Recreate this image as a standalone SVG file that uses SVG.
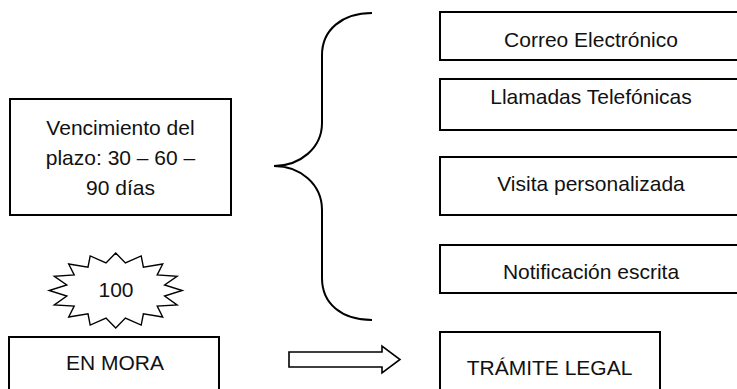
<svg xmlns="http://www.w3.org/2000/svg" width="737" height="389" viewBox="0 0 737 389">
  <style>
    .box { fill: #fff; stroke: #000; stroke-width: 2; }
    .line { fill: none; stroke: #000; stroke-width: 2; }
    .label { font-family: "Liberation Sans", Arial, sans-serif; font-size: 21px; fill: #111; text-anchor: middle; }
  </style>
  <rect width="737" height="389" fill="#fff"/>

  <!-- left column -->
  <g id="vencimiento">
    <rect class="box" x="10" y="99" width="221" height="116"/>
    <text class="label" x="120.5" y="135">Vencimiento del</text>
    <text class="label" x="120.5" y="165">plazo: 30 – 60 –</text>
    <text class="label" x="120.5" y="195">90 días</text>
  </g>

  <g id="contador">
    <polygon fill="#fff" stroke="#000" stroke-width="1.4" stroke-linejoin="miter"
      points="115.7,253.0 125.4,262.9 141.2,255.9 143.4,267.1 162.7,264.0 157.2,274.9 177.1,276.2 164.6,285.0 182.2,290.5 164.6,296.0 177.1,304.9 157.2,306.1 162.7,317.0 143.4,313.9 141.2,325.1 125.4,318.1 115.7,328.0 106.0,318.1 90.2,325.1 88.0,313.9 68.7,317.0 74.2,306.1 54.3,304.9 66.8,296.0 49.2,290.5 66.8,285.0 54.3,276.2 74.2,274.9 68.7,264.0 88.0,267.1 90.2,255.9 106.0,262.9"/>
    <text class="label" x="116" y="297">100</text>
  </g>

  <g id="en-mora">
    <rect class="box" x="9" y="337" width="210" height="60"/>
    <text class="label" x="115" y="370">EN MORA</text>
  </g>

  <!-- right column -->
  <g id="correo">
    <rect class="box" x="440" y="12" width="302" height="48"/>
    <text class="label" x="591" y="47">Correo Electrónico</text>
  </g>
  <g id="llamadas">
    <rect class="box" x="440" y="79" width="302" height="51"/>
    <text class="label" x="591" y="104">Llamadas Telefónicas</text>
  </g>
  <g id="visita">
    <rect class="box" x="440" y="157" width="302" height="58"/>
    <text class="label" x="591" y="191">Visita personalizada</text>
  </g>
  <g id="notificacion">
    <rect class="box" x="440" y="245" width="302" height="48"/>
    <text class="label" x="591" y="279">Notificación escrita</text>
  </g>
  <g id="tramite">
    <rect class="box" x="440" y="332" width="220" height="65"/>
    <text class="label" x="549.5" y="375">TRÁMITE LEGAL</text>
  </g>

  <!-- connectors -->
  <g id="connectors">
    <path class="line" d="M372,13 C342,13 322,30 322,55 L322,123 C322,148 300,166 274,166 C300,166 322,184 322,210 L322,278 C322,304 342,320 372,320"/>
    <polygon fill="#fff" stroke="#000" stroke-width="1.6" stroke-linejoin="miter"
      points="289,352 382,352 382,346 400,359.5 382,373 382,367 289,367"/>
  </g>
</svg>
